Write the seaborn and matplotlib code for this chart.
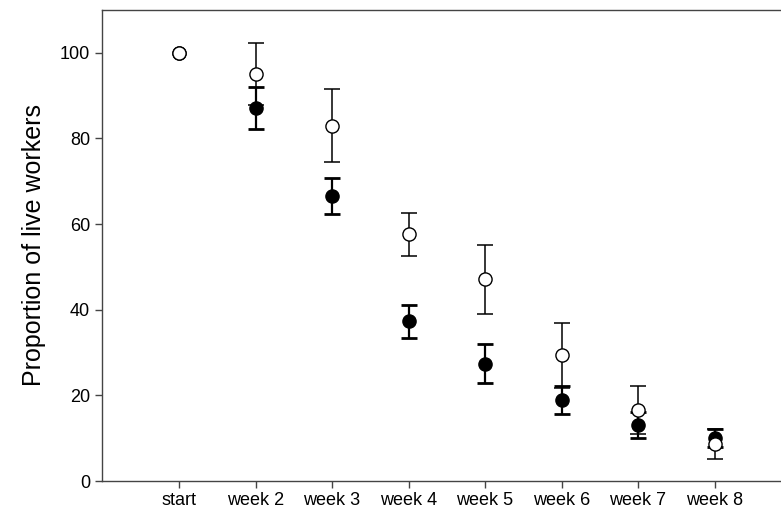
import numpy as np
import pandas as pd
import matplotlib
matplotlib.use("Agg")
import matplotlib.pyplot as plt
import seaborn as sns

categories = ["start", "week 2", "week 3", "week 4", "week 5", "week 6", "week 7", "week 8"]
filled_mean = [100, 87.2, 66.5, 37.3, 27.4, 18.9, 13.1, 10.0]
filled_err = [0, 4.9, 4.2, 3.9, 4.5, 3.3, 3.1, 2.1]
open_mean = [100, 95.0, 83.0, 57.6, 47.1, 29.4, 16.5, 8.6]
open_err = [0, 7.2, 8.5, 5.1, 8.0, 7.6, 5.6, 3.5]

sns.set_style("ticks")
plt.rcParams["font.family"] = ["Liberation Sans", "DejaVu Sans"]

pos = np.arange(1, len(categories) + 1)
df = pd.DataFrame({
    "pos": np.concatenate([pos, pos]),
    "val": filled_mean + open_mean,
    "group": ["filled"] * len(pos) + ["open"] * len(pos),
})

fig = plt.figure(figsize=(7.81, 5.17), dpi=100)
ax = fig.add_axes([102.5 / 781, 1 - 481 / 517, 1 - 102.5 / 781, (481 - 10) / 517])

fe = np.array(filled_err, dtype=float)
oe = np.array(open_err, dtype=float)
fe_mask = fe > 0
oe_mask = oe > 0

ax.errorbar(pos[fe_mask], np.array(filled_mean)[fe_mask], yerr=fe[fe_mask], fmt="none",
            ecolor="black", elinewidth=1.6, capsize=6, capthick=2.0, zorder=2)
ax.errorbar(pos[oe_mask], np.array(open_mean)[oe_mask], yerr=oe[oe_mask], fmt="none",
            ecolor="black", elinewidth=1.1, capsize=6, capthick=1.1, zorder=2)

sns.scatterplot(data=df[df.group == "filled"], x="pos", y="val", ax=ax, s=90,
                color="black", edgecolor="black", linewidth=1.0, zorder=3, legend=False)
sns.scatterplot(data=df[df.group == "open"], x="pos", y="val", ax=ax, s=90,
                color="white", edgecolor="black", linewidth=1.0, zorder=4, legend=False)

ax.set_xlim(0, (781 - 102.5) / 76.5)
ax.set_ylim(0, 110)
ax.set_xticks(pos)
ax.set_xticklabels(categories)
ax.set_yticks([0, 20, 40, 60, 80, 100])
ax.set_xlabel("")
ax.set_ylabel("Proportion of live workers", fontsize=18, labelpad=10, color="black")

for s in ["left", "bottom", "top"]:
    ax.spines[s].set_color("#444444")
    ax.spines[s].set_linewidth(1.0)
ax.spines["right"].set_visible(False)
ax.tick_params(axis="both", direction="out", length=5, width=1.0, color="#444444",
               labelsize=13, labelcolor="black", pad=4)
ax.tick_params(axis="x", pad=3)

fig.savefig("out.png", dpi=100)
